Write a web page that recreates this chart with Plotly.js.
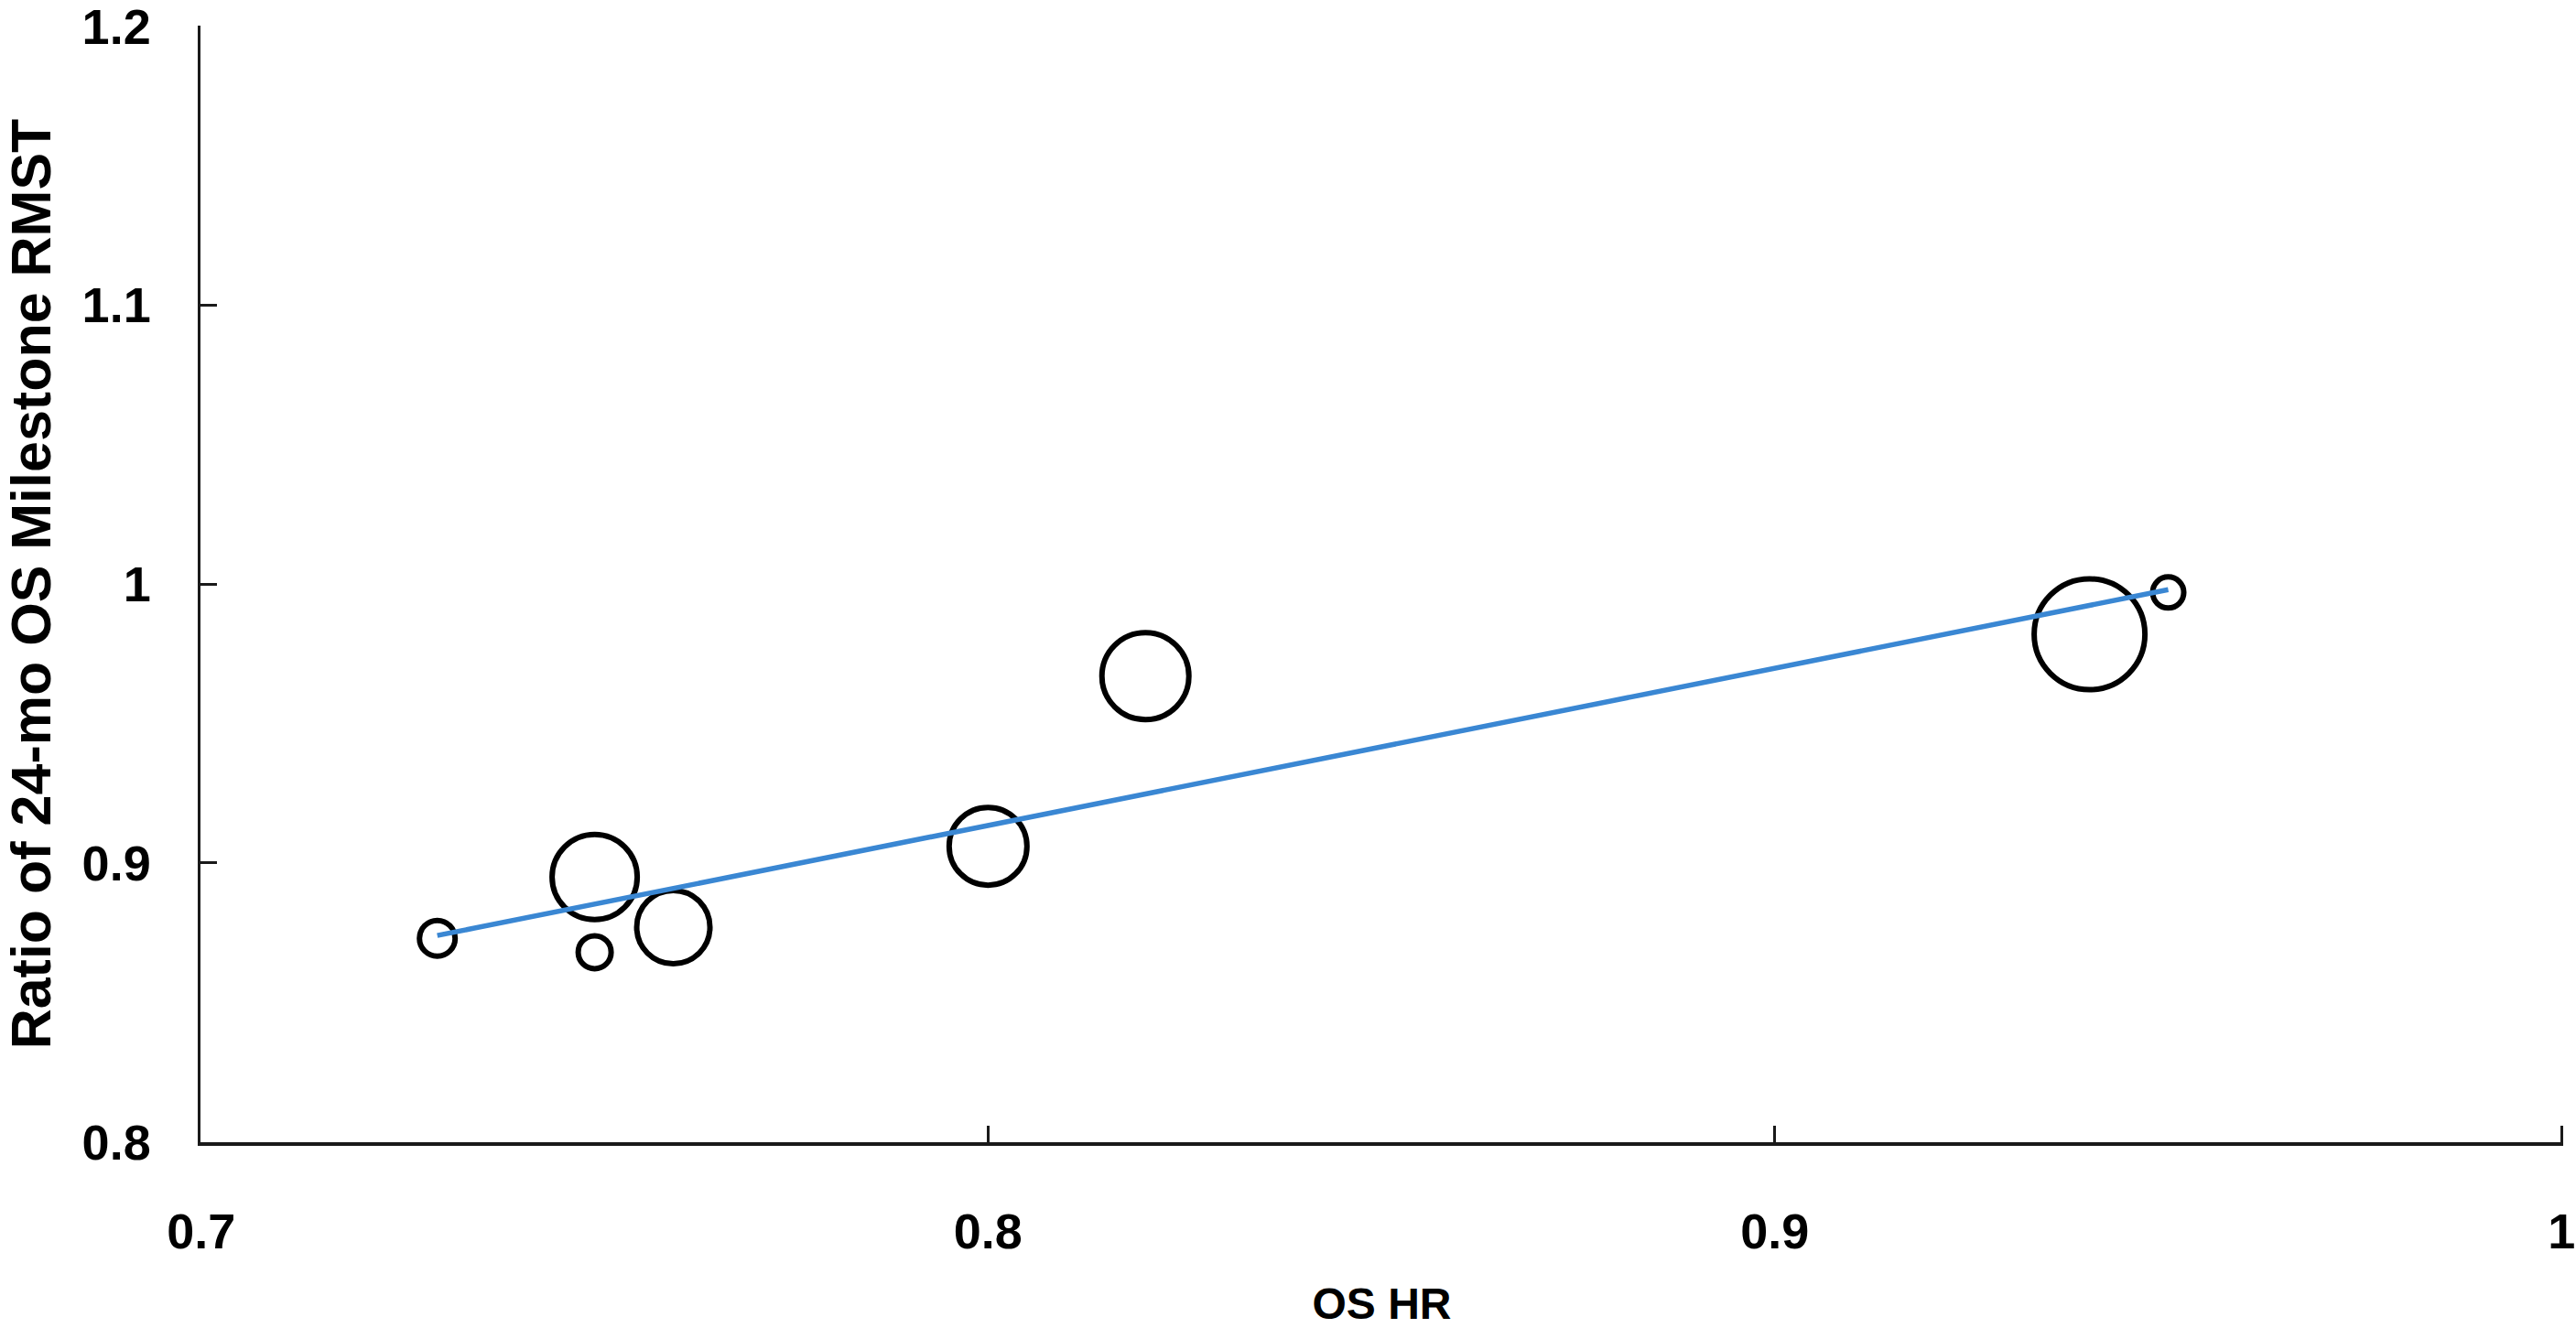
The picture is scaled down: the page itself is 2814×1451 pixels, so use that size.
<!DOCTYPE html>
<html>
<head>
<meta charset="utf-8">
<script src="https://cdn.plot.ly/plotly-3.0.1.min.js"></script>
<style>
  html, body { margin: 0; padding: 0; background: #ffffff; }
  #plot { width: 2814px; height: 1451px; }
</style>
</head>
<body>
<div id="plot"></div>
<script>
// trials: OS hazard ratio vs ratio of 24-month milestone RMST
var os_hr = [0.73, 0.75, 0.75, 0.76, 0.80, 0.82, 0.94, 0.95];
var rmst_ratio = [0.873, 0.868, 0.895, 0.877, 0.906, 0.967, 0.982, 0.997];
var bubble_weight = [39, 36, 93, 80, 85, 95, 121, 34];

// fitted regression line end points
var fit_x = [0.73, 0.95];
var fit_y = [0.874, 0.998];

var x_ticks = [0.7, 0.8, 0.9, 1.0];
var x_ticklabels = ['0.7', '0.8', '0.9', '1'];
var y_ticks = [0.8, 0.9, 1.0, 1.1, 1.2];
var y_ticklabels = ['0.8', '0.9', '1', '1.1', '1.2'];

var plotDiv = document.getElementById('plot');

var bubble_trace = {
   x: os_hr,
   y: rmst_ratio,
   mode: 'markers',
   type: 'scatter',
   hoverinfo: 'x+y',
   marker: {
      size: bubble_weight,
      sizemode: 'diameter',
      color: '#ffffff',
      opacity: 1,
      line: {width: 6, color: '#000000'}
   },
   showlegend: false
};

var fit_trace = {
   x: fit_x,
   y: fit_y,
   mode: 'lines',
   type: 'scatter',
   hoverinfo: 'skip',
   line: {width: 5.5, color: '#3a87d3'},
   showlegend: false
};

var font_family = 'Liberation Sans, Arial, sans-serif';
var tick_font = {family: font_family, size: 54, color: '#000000', weight: 'bold'};

var layout = {
   width: 2814,
   height: 1451,
   margin: {l: 219, r: 14, t: 28, b: 203},
   paper_bgcolor: '#ffffff',
   plot_bgcolor: '#ffffff',
   xaxis: {
      range: [0.6999, 1.0002],
      tickvals: x_ticks,
      ticktext: x_ticklabels,
      ticks: 'inside',
      ticklen: 18,
      tickwidth: 3,
      tickcolor: '#1a1a1a',
      tickfont: tick_font,
      ticklabelstandoff: 48,
      ticklabeloverflow: 'allow',
      showline: true,
      linewidth: 3.5,
      linecolor: '#1a1a1a',
      showgrid: false,
      zeroline: false,
      title: {
         text: 'OS HR',
         standoff: 40,
         font: {family: font_family, size: 48, color: '#000000', weight: 'bold'}
      }
   },
   yaxis: {
      range: [0.7999, 1.2002],
      tickvals: y_ticks,
      ticktext: y_ticklabels,
      ticks: 'inside',
      ticklen: 18,
      tickwidth: 3,
      tickcolor: '#1a1a1a',
      tickfont: tick_font,
      ticklabelstandoff: 40,
      ticklabeloverflow: 'allow',
      showline: true,
      linewidth: 3.5,
      linecolor: '#1a1a1a',
      showgrid: false,
      zeroline: false,
      title: {
         text: 'Ratio of 24-mo OS Milestone RMST',
         standoff: 28,
         font: {family: font_family, size: 61, color: '#000000', weight: 'bold'}
      }
   }
};

Plotly.newPlot(plotDiv, [bubble_trace, fit_trace], layout, {displayModeBar: false, staticPlot: true});
</script>
</body>
</html>
